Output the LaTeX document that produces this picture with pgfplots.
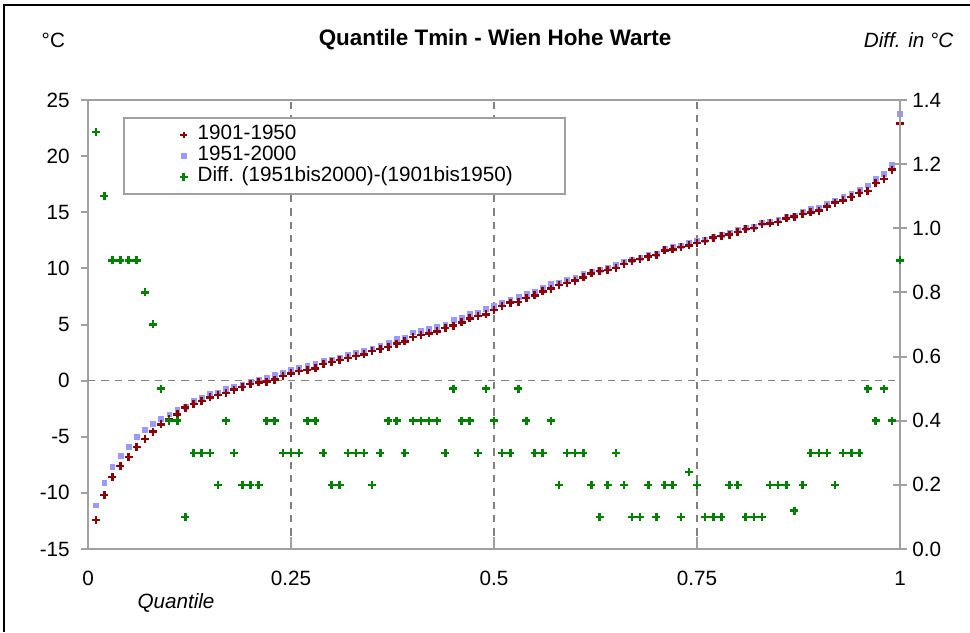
\documentclass[border=0pt]{standalone}
\usepackage{pgfplots}
\pgfplotsset{compat=1.18}
\usepackage{pgfplotstable}
\usepackage{fontspec}
\setmainfont{Liberation Sans}

\definecolor{redpt}{RGB}{139,0,0}
\definecolor{bluept}{RGB}{153,153,255}
\definecolor{greenpt}{RGB}{0,128,0}
\definecolor{axgray}{RGB}{160,160,160}
\definecolor{gridgray}{RGB}{128,128,128}

% q, 1901-1950 (a), 1951-2000 (b), difference (d)
\pgfplotstableread{
q a b d
0.01 -12.4 -11.1 1.3
0.02 -10.2 -9.1 1.1
0.03 -8.6 -7.7 0.9
0.04 -7.6 -6.7 0.9
0.05 -6.8 -5.9 0.9
0.06 -5.9 -5.0 0.9
0.07 -5.2 -4.4 0.8
0.08 -4.55 -3.85 0.7
0.09 -3.9 -3.4 0.5
0.10 -3.4 -3.0 0.4
0.11 -3.0 -2.6 0.4
0.12 -2.4 -2.3 0.1
0.13 -2.1 -1.8 0.3
0.14 -1.8 -1.5 0.3
0.15 -1.5 -1.2 0.3
0.16 -1.3 -1.1 0.2
0.17 -1.1 -0.7 0.4
0.18 -0.8 -0.5 0.3
0.19 -0.55 -0.35 0.2
0.20 -0.3 -0.1 0.2
0.21 -0.15 0.05 0.2
0.22 -0.1 0.3 0.4
0.23 0.1 0.5 0.4
0.24 0.4 0.7 0.3
0.25 0.65 0.95 0.3
0.26 0.85 1.15 0.3
0.27 0.95 1.35 0.4
0.28 1.1 1.5 0.4
0.29 1.5 1.8 0.3
0.30 1.65 1.85 0.2
0.31 1.85 2.05 0.2
0.32 2.0 2.3 0.3
0.33 2.2 2.5 0.3
0.34 2.35 2.65 0.3
0.35 2.65 2.85 0.2
0.36 2.8 3.1 0.3
0.37 3.0 3.4 0.4
0.38 3.3 3.7 0.4
0.39 3.5 3.8 0.3
0.40 3.9 4.3 0.4
0.41 4.05 4.45 0.4
0.42 4.2 4.6 0.4
0.43 4.4 4.8 0.4
0.44 4.7 5.0 0.3
0.45 4.9 5.4 0.5
0.46 5.2 5.6 0.4
0.47 5.55 5.95 0.4
0.48 5.75 6.05 0.3
0.49 5.9 6.4 0.5
0.50 6.3 6.7 0.4
0.51 6.65 6.95 0.3
0.52 6.95 7.25 0.3
0.53 7.0 7.5 0.5
0.54 7.35 7.75 0.4
0.55 7.6 7.9 0.3
0.56 7.95 8.25 0.3
0.57 8.2 8.6 0.4
0.58 8.5 8.7 0.2
0.59 8.7 9.0 0.3
0.60 8.9 9.2 0.3
0.61 9.2 9.5 0.3
0.62 9.55 9.75 0.2
0.63 9.75 9.85 0.1
0.64 9.85 10.05 0.2
0.65 10.05 10.35 0.3
0.66 10.4 10.6 0.2
0.67 10.7 10.8 0.1
0.68 10.85 10.95 0.1
0.69 11.05 11.25 0.2
0.70 11.2 11.3 0.1
0.71 11.6 11.8 0.2
0.72 11.7 11.9 0.2
0.73 11.9 12.0 0.1
0.74 12.05 12.29 0.24
0.75 12.25 12.45 0.2
0.76 12.45 12.55 0.1
0.77 12.75 12.85 0.1
0.78 12.9 13.0 0.1
0.79 13.0 13.2 0.2
0.80 13.25 13.45 0.2
0.81 13.5 13.6 0.1
0.82 13.6 13.7 0.1
0.83 13.95 14.05 0.1
0.84 14.0 14.2 0.2
0.85 14.15 14.35 0.2
0.86 14.45 14.65 0.2
0.87 14.6 14.72 0.12
0.88 14.85 15.05 0.2
0.89 15.0 15.3 0.3
0.90 15.15 15.45 0.3
0.91 15.5 15.8 0.3
0.92 15.85 16.05 0.2
0.93 16.05 16.35 0.3
0.94 16.35 16.65 0.3
0.95 16.7 17.0 0.3
0.96 16.9 17.4 0.5
0.97 17.6 18.0 0.4
0.98 17.95 18.45 0.5
0.99 18.8 19.2 0.4
1.00 22.9 23.8 0.9
}\quantiles

\pgfplotsset{legimg/.style={legend image code/.code={%
  \path (-44pt,0pt) (3pt,0pt);
  \draw[##1] plot coordinates {(0pt,0pt)};}}}
\newcommand\fs{\fontsize{15.5}{18}\selectfont}
\tikzset{griddash/.style={gridgray, line width=1.2pt, dash pattern=on 5.5pt off 4.5pt}}

\begin{document}
\begin{tikzpicture}
\useasboundingbox (0,0) rectangle (727.5pt,474pt);
\fill[white] (0,0) rectangle (727.5pt,474pt);
\draw[black, line width=1.5pt] (3pt,0) -- (3pt,470.25pt) -- (728pt,470.25pt);

\node[font=\bfseries\fontsize{16.8}{20}\selectfont] at (371.25pt,444pt) {Quantile Tmin - Wien Hohe Warte};
\node[font=\fs] at (40pt,444pt) {°C};
\node[font=\itshape\fs, anchor=east] at (718.5pt,444pt) {Diff. in °C};
\node[font=\itshape\fs] at (132pt,21.75pt) {Quantile};

\begin{axis}[
  at={(66pt,62.25pt)}, anchor=south west,
  scale only axis, width=609pt, height=336.75pt,
  xmin=0, xmax=1, ymin=-15, ymax=25,
  clip=false,
  axis line style={axgray, line width=1.5pt},
  xtick={0,0.25,0.5,0.75,1}, xticklabels={0,0.25,0.5,0.75,1},
  xtick pos=bottom, xtick style={draw=none},
  ytick={-15,-10,-5,0,5,10,15,20,25},
  yticklabels={-15,-10,-5,0,5,10,15,20,25},
  ytick pos=left, tick align=outside, major tick length=5.25pt,
  ytick style={axgray, line width=1.5pt},
  tick label style={font=\fs, text=black},
  xticklabel style={anchor=base, yshift=-21.75pt},
  yticklabel style={anchor=east, inner sep=0pt, xshift=-8.25pt},
]
\draw[griddash] (axis cs:0.25,-15) -- (axis cs:0.25,25);
\draw[griddash] (axis cs:0.5,-15) -- (axis cs:0.5,25);
\draw[griddash] (axis cs:0.75,-15) -- (axis cs:0.75,25);
\draw[griddash] (axis cs:0,0) -- (axis cs:1,0);
\draw[axgray, line width=1.5pt] (axis cs:0.25,-15) -- (axis cs:0.25,-13.95);
\draw[axgray, line width=1.5pt] (axis cs:0.5,-15) -- (axis cs:0.5,-13.95);
\draw[axgray, line width=1.5pt] (axis cs:0.75,-15) -- (axis cs:0.75,-13.95);
\addplot[only marks, mark=square*, mark size=1.8pt, color=bluept]
  table[x=q, y=b] {\quantiles};
\addplot[only marks, mark=+, mark size=3pt, color=redpt, mark options={line width=1.9pt}]
  table[x=q, y=a] {\quantiles};
\end{axis}

\begin{axis}[
  at={(66pt,62.25pt)}, anchor=south west,
  scale only axis, width=609pt, height=336.75pt,
  xmin=0, xmax=1, ymin=0, ymax=1.4,
  clip=false,
  axis x line=none, axis y line*=right, xtick=\empty,
  axis line style={axgray, line width=1.8pt},
  ytick={0,0.2,0.4,0.6,0.8,1.0,1.2,1.4},
  yticklabels={0.0,0.2,0.4,0.6,0.8,1.0,1.2,1.4},
  tick align=center, major tick length=10.5pt,
  ytick style={axgray, line width=1.5pt},
  tick label style={font=\fs, text=black},
  yticklabel style={anchor=west, inner sep=0pt, xshift=3.75pt},
  legend style={at={(rel axis cs:0.0431,0.9621)}, anchor=north west,
    draw=axgray, line width=1.5pt, fill=white, font=\fs,
    inner xsep=0pt, inner ysep=4.7pt, column sep=6.75pt,
    nodes={inner sep=0pt, text height=11.5pt, text depth=4.25pt}},
  legend cell align=left,
]
\addlegendimage{only marks, mark=+, mark size=2.4pt, color=redpt, mark options={line width=1.5pt}, legimg}
\addlegendentry{1901-1950}
\addlegendimage{only marks, mark=square*, mark size=1.5pt, color=bluept, legimg}
\addlegendentry{1951-2000}
\addplot[only marks, mark=+, mark size=3pt, color=greenpt, mark options={line width=1.9pt}, legimg]
  table[x=q, y=d] {\quantiles};
\addlegendentry{Diff. (1951bis2000)-(1901bis1950)\hspace*{39pt}}
\end{axis}
\end{tikzpicture}
\end{document}
